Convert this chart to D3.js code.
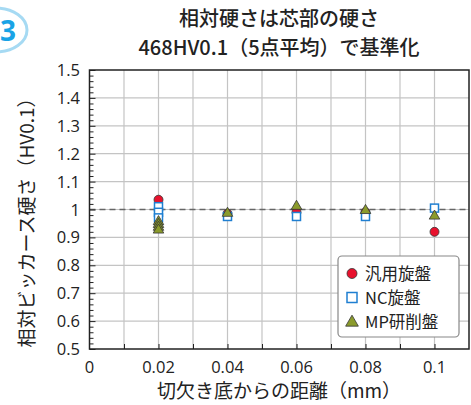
<!DOCTYPE html>
<html><head><meta charset="utf-8">
<script src="https://cdn.jsdelivr.net/npm/d3@7"></script>
<style>
html,body{margin:0;padding:0;background:#fff;}
text{font-family:"Noto Sans CJK JP","Noto Sans",sans-serif;fill:#222;}
</style></head>
<body>
<svg id="c" width="471" height="405"></svg>
<script>
// Data
const positions = [0.02, 0.04, 0.06, 0.08, 0.1];
const seriesNames = ["汎用旋盤", "NC旋盤", "MP研削盤"];
// [x, value]
const generalLathe = [[0.02,1.035],[0.04,0.985],[0.06,0.99],[0.08,0.99],[0.1,0.92]];
const ncLathe = [[0.02,1.01],[0.02,0.99],[0.02,0.97],[0.04,0.975],[0.06,0.975],[0.08,0.975],[0.1,1.005]];
const mpGrinder = [[0.02,0.96],[0.02,0.95],[0.02,0.94],[0.02,0.93],[0.04,0.99],[0.06,1.015],[0.08,1.0],[0.1,0.98]];
const xTicks = [0, 0.02, 0.04, 0.06, 0.08, 0.1];
const yTicks = [0.5,0.6,0.7,0.8,0.9,1,1.1,1.2,1.3,1.4,1.5];
const titleLines = ["相対硬さは芯部の硬さ", "468HV0.1（5点平均）で基準化"];
const xLabel = "切欠き底からの距離（mm）";
const yLabel = "相対ビッカース硬さ（HV0.1）";

const svg = d3.select("#c");
const L = 89.5, R = 469, T = 70, B = 349;
const x = d3.scaleLinear().domain([0, 0.11]).range([L, R]);
const y = d3.scaleLinear().domain([0.5, 1.5]).range([B, T]);

// badge
svg.append("ellipse").attr("cx", -4).attr("cy", 30).attr("rx", 31).attr("ry", 22)
  .attr("fill", "#fff").attr("stroke", "#a6daf3").attr("stroke-width", 3);
svg.append("text").attr("x", 0).attr("y", 41).attr("text-anchor", "start")
  .style("font-size", "28px").style("font-weight", "bold").style("fill", "#19a3e6")
  .style("font-family", "'Open Sans',sans-serif").text("3");

// title
svg.selectAll("text.title").data(titleLines).join("text").attr("class","title")
  .attr("x", 279).attr("y", (d,i)=>25.5 + i*29).attr("text-anchor","middle")
  .style("font-size","20px").style("font-weight","500").text(d=>d);

// grid
const g = svg.append("g");
g.selectAll("line.hg").data(d3.range(0.6, 1.45, 0.1)).join("line")
  .attr("x1", L).attr("x2", R).attr("y1", d=>y(d)).attr("y2", d=>y(d))
  .attr("stroke", "#c4c4c4").attr("stroke-width", 1.2);
g.selectAll("line.vg").data(d3.range(1, 11).map(d=>d/100)).join("line")
  .attr("y1", T).attr("y2", B).attr("x1", d=>x(d)).attr("x2", d=>x(d))
  .attr("stroke", "#c4c4c4").attr("stroke-width", 1.2);

// dashed reference
g.append("line").attr("x1", L).attr("x2", R).attr("y1", y(1)).attr("y2", y(1))
  .attr("stroke", "#666").attr("stroke-width", 1.5).attr("stroke-dasharray", "6,4");

// axes with inward ticks
const yAxis = d3.axisRight(y).tickValues(yTicks).tickSize(6).tickFormat("");
const yMinor = d3.axisRight(y).tickValues(d3.range(0.52, 1.5, 0.02).filter(v=>Math.abs(v*10-Math.round(v*10))>0.01)).tickSize(4).tickFormat("");
const ax1 = svg.append("g").attr("transform", `translate(${L},0)`).call(yAxis);
const ax2 = svg.append("g").attr("transform", `translate(${L},0)`).call(yMinor);
[ax1, ax2].forEach(a=>{a.select(".domain").remove(); a.selectAll("line").attr("stroke","#222");});
const xAxis = d3.axisTop(x).tickValues(d3.range(1, 11).map(d=>d/100)).tickSize(5).tickFormat("");
const ax3 = svg.append("g").attr("transform", `translate(0,${B})`).call(xAxis);
ax3.select(".domain").remove(); ax3.selectAll("line").attr("stroke","#222");

// frame
svg.append("rect").attr("x", L).attr("y", T).attr("width", R-L).attr("height", B-T)
  .attr("fill","none").attr("stroke","#222").attr("stroke-width",1.5);

// tick labels
svg.selectAll("text.yt").data(yTicks).join("text").attr("class","yt")
  .attr("x", 80).attr("y", d=>y(d)+6).attr("text-anchor","end")
  .style("font-size","16.5px").style("font-family","'Open Sans',sans-serif").text(d=>d3.format("")(d));
svg.selectAll("text.xt").data(xTicks).join("text").attr("class","xt")
  .attr("x", d=>x(d)).attr("y", 373).attr("text-anchor","middle")
  .style("font-size","16.5px").style("font-family","'Open Sans',sans-serif").text(d=>d3.format("")(d));

// axis labels
svg.append("text").attr("x", 279).attr("y", 398).attr("text-anchor","middle")
  .style("font-size","19px").text(xLabel);
svg.append("text").attr("transform","translate(34,218) rotate(-90)").attr("text-anchor","middle")
  .style("font-size","19px").text(yLabel);

// markers
const red = "#e8112d", blue = "#1f7fd1", olive = "#8b9b2c";
const tri = d3.symbol().type(d3.symbolTriangle).size(48);
svg.selectAll("circle.s1").data(generalLathe).join("circle")
  .attr("cx", d=>x(d[0])).attr("cy", d=>y(d[1])).attr("r", 4.5)
  .attr("fill", red).attr("stroke", "#333").attr("stroke-width", 0.8);
svg.selectAll("rect.s2").data(ncLathe).join("rect")
  .attr("x", d=>x(d[0])-4).attr("y", d=>y(d[1])-4).attr("width", 8).attr("height", 8)
  .attr("fill", "#fff").attr("stroke", blue).attr("stroke-width", 1.5);
svg.selectAll("path.s3").data(mpGrinder).join("path")
  .attr("transform", d=>`translate(${x(d[0])},${y(d[1])+1})`).attr("d", tri)
  .attr("fill", olive).attr("stroke", "#333").attr("stroke-width", 0.8);

// legend
const lg = svg.append("g");
lg.append("rect").attr("x", 338).attr("y", 256).attr("width", 121).attr("height", 81).attr("rx", 4)
  .attr("fill","#fff").attr("stroke","#888").attr("stroke-width",1.2);
const ly = [273.5, 297.5, 321.5];
lg.append("circle").attr("cx", 352).attr("cy", ly[0]).attr("r", 5)
  .attr("fill", red).attr("stroke", "#333").attr("stroke-width", 0.8);
lg.append("rect").attr("x", 347).attr("y", ly[1]-5).attr("width", 10).attr("height", 10)
  .attr("fill","#fff").attr("stroke", blue).attr("stroke-width", 1.5);
lg.append("path").attr("transform", `translate(352,${ly[2]+1})`).attr("d", d3.symbol().type(d3.symbolTriangle).size(70))
  .attr("fill", olive).attr("stroke", "#333").attr("stroke-width", 0.8);
lg.selectAll("text").data(seriesNames).join("text")
  .attr("x", 365).attr("y", (d,i)=>ly[i]+6).style("font-size","16.5px").text(d=>d);
</script>
</body></html>
